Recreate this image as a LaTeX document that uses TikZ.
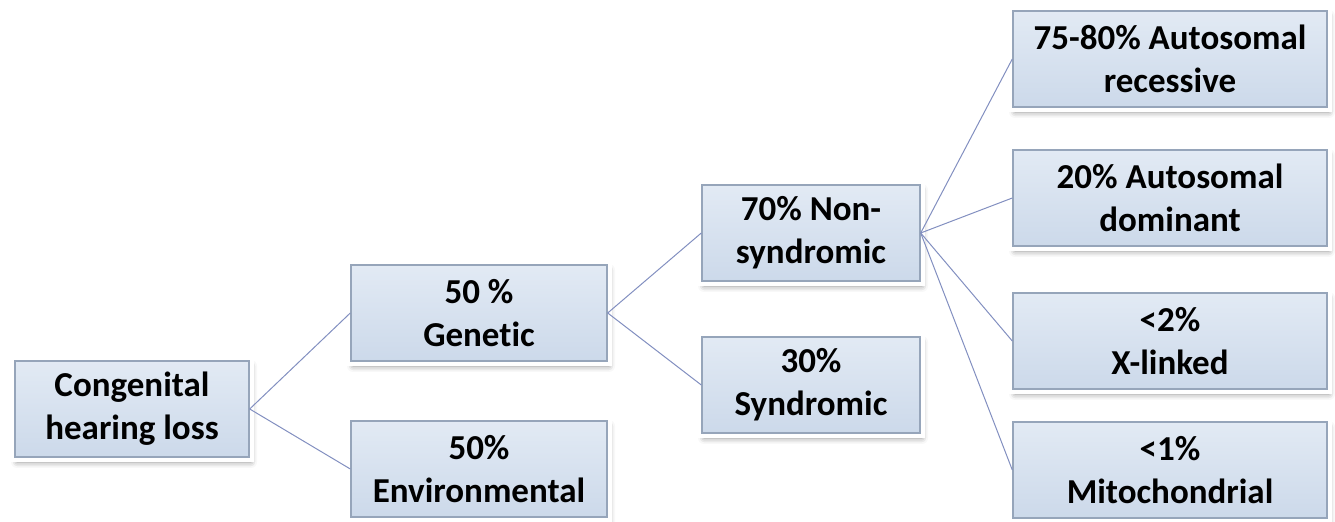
\documentclass[tikz,border=0pt]{standalone}
\usepackage{fontspec}
\setmainfont[Ligatures=NoCommon]{Carlito}
\usetikzlibrary{shadows.blur}
\definecolor{boxtop}{RGB}{226,234,244}
\definecolor{boxbot}{RGB}{204,217,234}
\definecolor{boxedge}{RGB}{150,165,186}
\definecolor{linkline}{RGB}{130,143,192}
\tikzset{
	cbox/.style={
			rectangle, align=center, minimum width=#1, minimum height=48pt,
			blur shadow={shadow xshift=1pt, shadow yshift=-2.5pt, shadow blur radius=3pt, shadow opacity=45},
			preaction={draw=white, line width=5pt},
			top color=boxtop, bottom color=boxbot, draw=boxedge, line width=0.7pt,
			font=\bfseries\fontsize{17.5}{21.5}\selectfont
		},
	link/.style={draw=linkline, line width=0.5pt}
}

\begin{document}
\begin{tikzpicture}[x=0.5pt, y=-0.5pt]
			\useasboundingbox (0,0) rectangle (1335,522);

			\node[cbox=117pt] (cong)	at (132, 409)	{Congenital\\hearing loss};
			\node[cbox=128pt] (gen)		at (479, 313)	{50 \%\\Genetic};
			\node[cbox=128pt] (env)		at (479, 469)	{50\%\\Environmental};
			\node[cbox=109pt] (nonsyn)	at (811, 233)	{70\% Non-\\syndromic};
			\node[cbox=109pt] (syn)		at (811, 385)	{30\%\\Syndromic};
			\node[cbox=157pt] (rec)		at (1170, 59)	{75-80\% Autosomal\\recessive};
			\node[cbox=157pt] (dom)		at (1170, 198)	{20\% Autosomal\\dominant};
			\node[cbox=157pt] (xlink)	at (1170, 341)	{<2\%\\X-linked};
			\node[cbox=157pt] (mito)	at (1170, 470)	{<1\%\\Mitochondrial};

			\draw[link]	(cong.east) to (gen.west);
			\draw[link]	(cong.east) to (env.west);
			\draw[link]	(gen.east) to (nonsyn.west);
			\draw[link]	(gen.east) to (syn.west);
			\draw[link]	(nonsyn.east) to (rec.west);
			\draw[link]	(nonsyn.east) to (dom.west);
			\draw[link]	(nonsyn.east) to (xlink.west);
			\draw[link]	(nonsyn.east) to (mito.west);
		\end{tikzpicture}
\end{document}
